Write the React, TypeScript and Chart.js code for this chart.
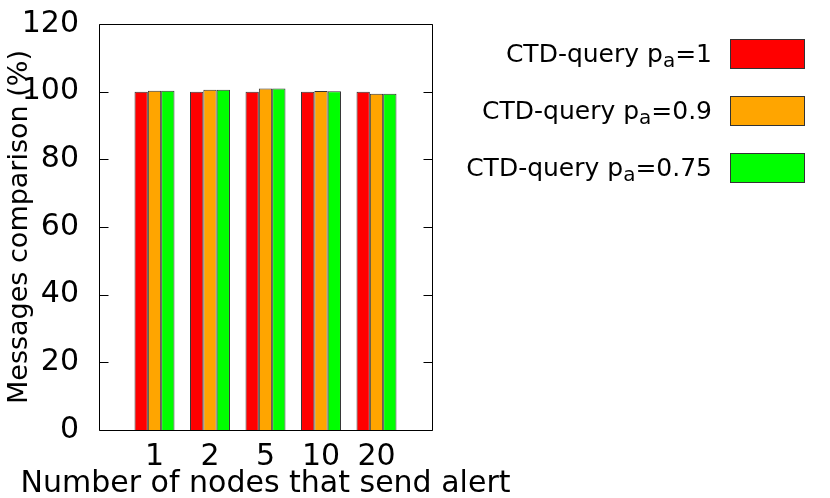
import React, { useEffect, useRef } from "react";
import { Chart, registerables } from "chart.js";

Chart.register(...registerables);

const categories = ["", "1", "2", "5", "10", "20", ""];
const seriesLabels = ["=1", "=0.9", "=0.75"];
const seriesColors = ["#ff0000", "#ffa500", "#00ff00"];
const pa1 = [null, 100, 100, 100, 100, 100, null];
const pa09 = [null, 100.3, 100.6, 100.9, 100.2, 99.4, null];
const pa075 = [null, 100.3, 100.6, 100.9, 100.1, 99.4, null];
const yTicks = [0, 20, 40, 60, 80, 100, 120];
const xTitle = "Number of nodes that send alert";
const yTitle = "Messages comparison (%)";

const FONT = "'DejaVu Sans', sans-serif";

const framePlugin = {
  id: "frame",
  afterDatasetsDraw(chart: any) {
    const { ctx, chartArea } = chart;
    const l = Math.round(chartArea.left) + 0.5;
    const r = Math.round(chartArea.right) + 0.5;
    const t = Math.round(chartArea.top) + 0.5;
    const b = Math.round(chartArea.bottom) + 0.5;
    ctx.save();
    ctx.strokeStyle = "#000";
    ctx.lineWidth = 1;
    ctx.beginPath();
    ctx.rect(l, t, r - l, b - t);
    const ys = chart.scales.y;
    yTicks.forEach((v) => {
      const y = Math.round(ys.getPixelForValue(v)) + 0.5;
      ctx.moveTo(l, y);
      ctx.lineTo(l + 9, y);
      ctx.moveTo(r, y);
      ctx.lineTo(r - 9, y);
    });
    ctx.stroke();

    // axis titles
    ctx.fillStyle = "#000";
    ctx.textAlign = "center";
    ctx.textBaseline = "alphabetic";
    ctx.font = `30px ${FONT}`;
    ctx.fillText(xTitle, (chartArea.left + chartArea.right) / 2, 492);
    ctx.save();
    ctx.translate(27, (chartArea.top + chartArea.bottom) / 2);
    ctx.rotate(-Math.PI / 2);
    ctx.font = `27px ${FONT}`;
    ctx.fillText(yTitle, 0, 0);
    ctx.restore();
    ctx.restore();
  },
};

const legendPlugin = {
  id: "subLegend",
  afterDraw(chart: any) {
    const { ctx } = chart;
    ctx.save();
    chart.data.datasets.forEach((ds: any, i: number) => {
      const boxX = 730;
      const boxY = 39 + i * 57;
      const boxW = 74;
      const boxH = 29;
      ctx.fillStyle = ds.backgroundColor;
      ctx.fillRect(boxX, boxY, boxW, boxH);
      ctx.strokeStyle = "#333";
      ctx.lineWidth = 1;
      ctx.strokeRect(boxX + 0.5, boxY + 0.5, boxW, boxH);

      const main = "CTD-query p";
      const sub = "a";
      const rest = seriesLabels[i];
      const mainFont = `25px ${FONT}`;
      const subFont = `20px ${FONT}`;
      ctx.font = mainFont;
      const w1 = ctx.measureText(main).width;
      const w3 = ctx.measureText(rest).width;
      ctx.font = subFont;
      const w2 = ctx.measureText(sub).width;
      const total = w1 + w2 + w3;
      const right = 712;
      const baseline = boxY + 23;
      let x = right - total;
      ctx.fillStyle = "#000";
      ctx.textAlign = "left";
      ctx.textBaseline = "alphabetic";
      ctx.font = mainFont;
      ctx.fillText(main, x, baseline);
      x += w1;
      ctx.font = subFont;
      ctx.fillText(sub, x, baseline + 5);
      x += w2;
      ctx.font = mainFont;
      ctx.fillText(rest, x, baseline);
    });
    ctx.restore();
  },
};

export default function App() {
  const ref = useRef<HTMLCanvasElement>(null);
  useEffect(() => {
    if (!ref.current) return;
    const mk = (data: any[], i: number) => ({
      label: "CTD-query pa" + seriesLabels[i],
      data,
      backgroundColor: seriesColors[i],
      borderColor: "#333",
      borderWidth: 1,
      categoryPercentage: 0.72,
      barPercentage: 1,
    });
    const chart = new Chart(ref.current, {
      type: "bar",
      data: {
        labels: categories,
        datasets: [mk(pa1, 0), mk(pa09, 1), mk(pa075, 2)],
      },
      plugins: [framePlugin, legendPlugin],
      options: {
        responsive: false,
        animation: false,
        layout: { padding: { left: 0, top: 24, right: 398, bottom: 0 } },
        plugins: { legend: { display: false }, tooltip: { enabled: false } },
        scales: {
          x: {
            type: "category",
            offset: false,
            grid: { display: false },
            border: { display: false },
            ticks: {
              color: "#000",
              font: { family: FONT, size: 30 },
              maxRotation: 0,
              autoSkip: false,
              padding: 1,
            },
            title: { display: false },
            afterFit: (s: any) => {
              s.height = 68;
            },
          },
          y: {
            min: 0,
            max: 120,
            grid: { display: false },
            border: { display: false },
            ticks: {
              stepSize: 20,
              color: "#000",
              font: { family: FONT, size: 30, lineHeight: 0.5 },
              padding: 12,
            },
            title: { display: false },
            afterFit: (s: any) => {
              s.width = 99;
            },
          },
        },
      },
    } as any);
    return () => chart.destroy();
  }, []);
  return (
    <div style={{ position: "absolute", left: 0, top: 0, width: 830, height: 498, background: "#fff" }}>
      <canvas ref={ref} width={830} height={498} />
    </div>
  );
}
